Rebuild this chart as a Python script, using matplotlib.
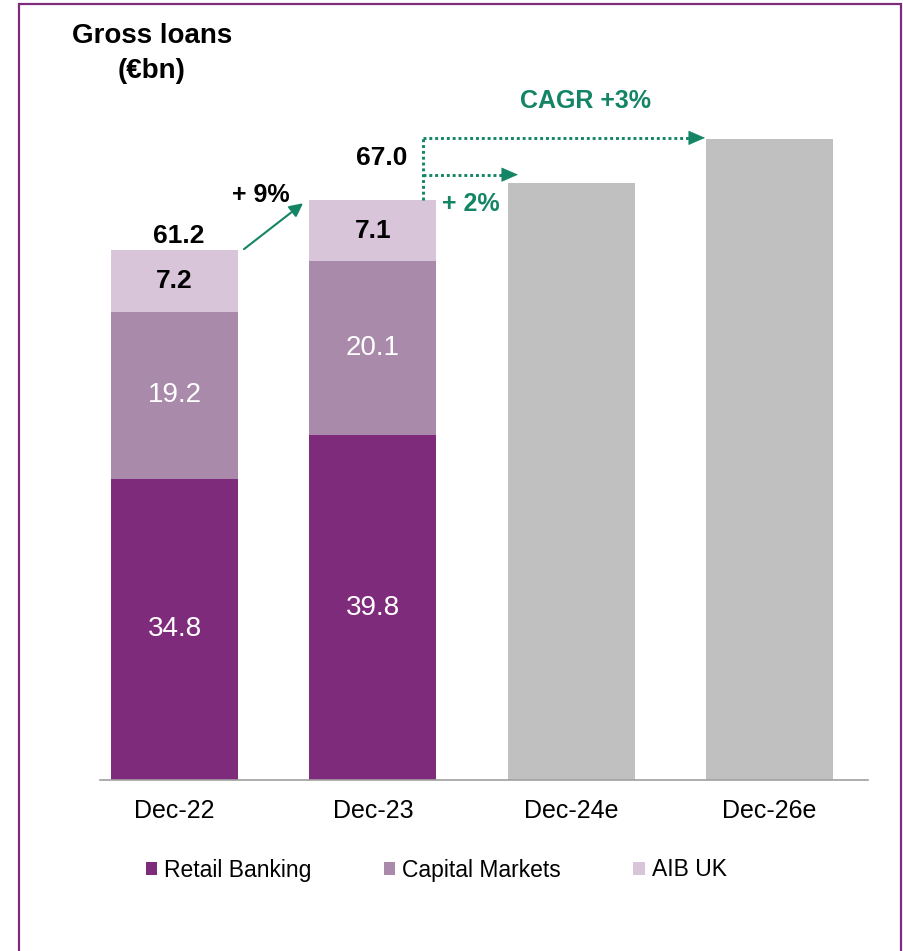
import matplotlib.pyplot as plt
import numpy as np
from matplotlib.patches import Rectangle

plt.rcParams['font.family'] = ['Liberation Sans', 'DejaVu Sans']

# Gross loans by segment (EUR bn)
periods = ['Dec-22', 'Dec-23', 'Dec-24e', 'Dec-26e']
retail = [34.8, 39.8]
capital = [19.2, 20.1]
aib_uk = [7.2, 7.1]
totals = [61.2, 67.0]
estimates = [68.9, 74.0]

growth_hist = '+ 9%'
growth_24 = '+ 2%'
growth_cagr = 'CAGR +3%'

c_retail = '#7F2B7B'
c_capital = '#A98AAB'
c_uk = '#D8C5DA'
c_est = '#C0C0C0'
c_green = '#138565'
c_frame = '#7F2B7B'

fig = plt.figure(figsize=(9.04, 9.51), dpi=100)
ax = fig.add_axes([100 / 904, (951 - 780) / 951, 768 / 904, 740 / 951])

x = np.arange(len(periods))
w = 0.64
xh = x[:2]
b1 = ax.bar(xh, retail, w, color=c_retail, label='Retail Banking')
b2 = ax.bar(xh, capital, w, bottom=retail, color=c_capital,
            label='Capital Markets')
bottom_uk = np.add(retail, capital)
b3 = ax.bar(xh, aib_uk, w, bottom=bottom_uk, color=c_uk, label='AIB UK')
ax.bar(x[2:], estimates, w, color=c_est)

# segment labels
for i in range(2):
    ax.text(xh[i], retail[i] / 2, f'{retail[i]:.1f}', ha='center',
            va='center', color='white', fontsize=20)
    ax.text(xh[i], retail[i] + capital[i] / 2, f'{capital[i]:.1f}',
            ha='center', va='center', color='white', fontsize=20)
    ax.text(xh[i], bottom_uk[i] + aib_uk[i] / 2, f'{aib_uk[i]:.1f}',
            ha='center', va='center', color='black', fontsize=19,
            fontweight='bold')

ax.text(xh[0] + 0.02, totals[0] + 1.6, f'{totals[0]:.1f}', ha='center',
        va='center', fontsize=19, fontweight='bold')
ax.text(xh[1] + 0.046, totals[1] + 4.8, f'{totals[1]:.1f}', ha='center',
        va='center', fontsize=19, fontweight='bold')

# historical growth arrow
ax.annotate('', xy=(0.648, totals[1] - 0.4), xytext=(0.35, totals[0] + 0.1),
            arrowprops=dict(arrowstyle='-|>', color=c_green, lw=1.5,
                            mutation_scale=20, shrinkA=0, shrinkB=0))
ax.text(0.435, 67.6, growth_hist, ha='center', va='center', fontsize=18,
        fontweight='bold')

# forecast arrows: dotted shafts with solid heads
xv = 1.253
y_top = estimates[1] + 0.15
y_mid = estimates[0] + 1.0
head = 0.076
dots = dict(color=c_green, lw=2.1, linestyle=(0, (1, 1)),
            solid_capstyle='butt')
ax.plot([xv, xv], [totals[1], y_top], **dots)
for xe, ye in [(2.675, y_top), (1.732, y_mid)]:
    ax.plot([xv, xe - head], [ye, ye], **dots)
    ax.annotate('', xy=(xe, ye), xytext=(xe - head, ye),
                arrowprops=dict(arrowstyle='-|>,head_length=0.55,'
                                'head_width=0.24', color=c_green, lw=0.5,
                                mutation_scale=20, shrinkA=0, shrinkB=0))
ax.text(1.35, totals[1] - 0.45, growth_24, ha='left', va='center',
        fontsize=18, fontweight='bold', color=c_green)
ax.text(2.07, 78.4, growth_cagr, ha='center', va='center', fontsize=18,
        fontweight='bold', color=c_green)

ax.set_xlim(-0.376, 3.497)
ax.set_ylim(0, 740 / 8.66)
ax.set_xticks(x)
ax.set_xticklabels(periods, fontsize=18)
ax.tick_params(axis='x', length=0, pad=14)
ax.set_yticks([])
for s in ['top', 'right', 'left']:
    ax.spines[s].set_visible(False)
ax.spines['bottom'].set_color('#A0A0A0')
ax.spines['bottom'].set_linewidth(1.2)

fig.text(152 / 904, 1 - 43 / 951, 'Gross loans', ha='center',
         va='baseline', fontsize=20, fontweight='bold')
fig.text(152 / 904, 1 - 78 / 951, '(€bn)', ha='center',
         va='baseline', fontsize=20, fontweight='bold')

fig.legend(handles=[b1, b2, b3], loc='center left',
           bbox_to_anchor=(146 / 904, 1 - 870 / 951), ncol=3, frameon=False,
           fontsize=16.5, handlelength=0.5, handleheight=0.5,
           handletextpad=0.3, columnspacing=3.15, borderpad=0,
           borderaxespad=0)

fig.patches.append(Rectangle((19 / 904, -0.05), 882 / 904, 1.05 - 4 / 951,
                             transform=fig.transFigure, fill=False,
                             edgecolor=c_frame, lw=1.6))

fig.savefig('out.png', dpi=100)
